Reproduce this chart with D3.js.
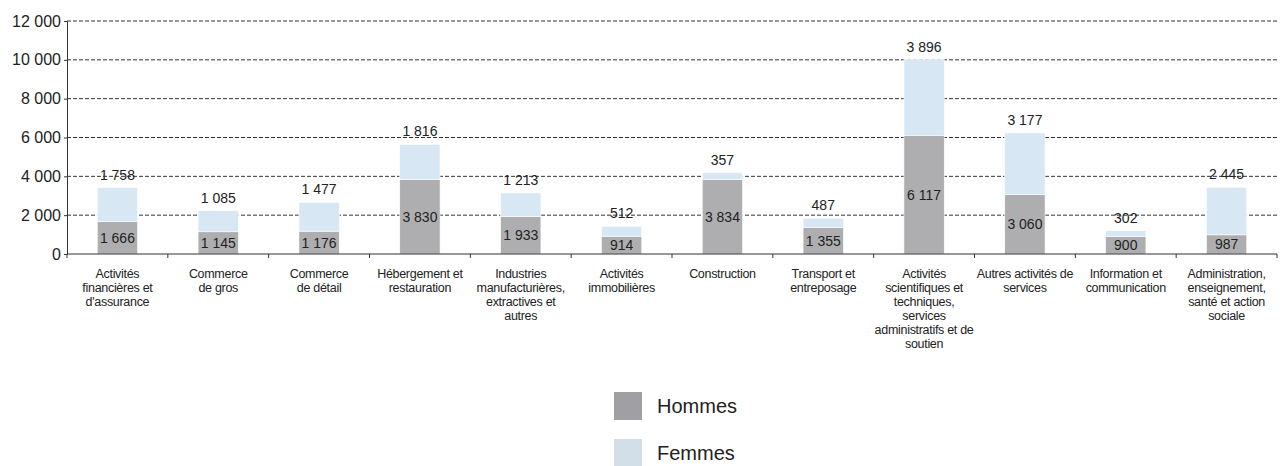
<!DOCTYPE html>
<html>
<head>
<meta charset="utf-8">
<script src="https://cdn.jsdelivr.net/npm/d3@7"></script>
<style>
  body { margin: 0; background: #fff; }
  text { font-family: "Liberation Sans", Arial, Helvetica, sans-serif; fill: #222; }
</style>
</head>
<body>
<div id="chart"></div>
<script>
// categories (line breaks as in the source)
const categories = [
  ["Activités", "financières et", "d'assurance"],
  ["Commerce", "de gros"],
  ["Commerce", "de détail"],
  ["Hébergement et", "restauration"],
  ["Industries", "manufacturières,", "extractives et", "autres"],
  ["Activités", "immobilières"],
  ["Construction"],
  ["Transport et", "entreposage"],
  ["Activités", "scientifiques et", "techniques,", "services", "administratifs et de", "soutien"],
  ["Autres activités de", "services"],
  ["Information et", "communication"],
  ["Administration,", "enseignement,", "santé et action", "sociale"]
];
const hommes = [1666, 1145, 1176, 3830, 1933, 914, 3834, 1355, 6117, 3060, 900, 987];
const femmes = [1758, 1085, 1477, 1816, 1213, 512, 357, 487, 3896, 3177, 302, 2445];
const yTicks = [0, 2000, 4000, 6000, 8000, 10000, 12000];
const seriesNames = ["Hommes", "Femmes"];

const width = 1283, height = 466;
const margin = { left: 67, right: 6, top: 21, bottom: 212 };
const colors = { Hommes: "#aeaeb1", Femmes: "#d8e7f4" };
const legendColors = { Hommes: "#a0a0a4", Femmes: "#d2dee8" };

const fmt = v => d3.format(",")(v).replace(/,/g, " ");

const svg = d3.select("#chart").append("svg")
  .attr("width", width).attr("height", height);

const idx = categories.map((c, i) => i);
const x = d3.scaleBand()
  .domain(idx)
  .range([margin.left, width - margin.right])
  .paddingInner(0.6).paddingOuter(0.3);
const xb = d3.scaleBand().domain(idx).range([margin.left, width - margin.right]);
const y = d3.scaleLinear().domain([0, 12000]).range([height - margin.bottom, margin.top]);

// dashed grid lines
svg.append("g")
  .selectAll("line")
  .data(yTicks.filter(t => t > 0))
  .join("line")
  .attr("x1", margin.left).attr("x2", width - margin.right)
  .attr("y1", d => y(d)).attr("y2", d => y(d))
  .attr("stroke", "#333").attr("stroke-width", 1)
  .attr("stroke-dasharray", "4,2");

// y axis
const yAxis = svg.append("g")
  .attr("transform", `translate(${margin.left},0)`)
  .call(d3.axisLeft(y).tickValues(yTicks).tickSize(3).tickPadding(3).tickFormat(fmt));
yAxis.select(".domain").attr("stroke", "#333");
yAxis.selectAll(".tick line").attr("stroke", "#333");
yAxis.selectAll(".tick text").style("font-size", "16px").attr("fill", "#222");

// bars
const stackData = d3.stack().keys(seriesNames)(idx.map(i => ({ Hommes: hommes[i], Femmes: femmes[i] })));
svg.append("g")
  .selectAll("g")
  .data(stackData)
  .join("g")
  .attr("fill", d => colors[d.key])
  .selectAll("rect")
  .data(d => d.map((v, i) => ({ v, i })))
  .join("rect")
  .attr("x", d => x(d.i))
  .attr("width", x.bandwidth())
  .attr("y", d => y(d.v[1]))
  .attr("height", d => y(d.v[0]) - y(d.v[1]))
  .attr("stroke", "#fff").attr("stroke-width", 0.6);

// x axis
const baseY = y(0);
svg.append("line")
  .attr("x1", margin.left).attr("x2", width - margin.right)
  .attr("y1", baseY).attr("y2", baseY)
  .attr("stroke", "#333").attr("stroke-width", 1.2);
const bounds = idx.map(i => xb(i)).concat([width - margin.right]);
svg.append("g").selectAll("line")
  .data(bounds)
  .join("line")
  .attr("x1", d => d).attr("x2", d => d)
  .attr("y1", baseY).attr("y2", baseY + 4)
  .attr("stroke", "#333");

// value labels
svg.append("g").selectAll("text")
  .data(idx)
  .join("text")
  .attr("x", i => x(i) + x.bandwidth() / 2)
  .attr("y", i => (y(0) + y(hommes[i])) / 2 + 5)
  .attr("text-anchor", "middle")
  .style("font-size", "14px")
  .text(i => fmt(hommes[i]));
svg.append("g").selectAll("text")
  .data(idx)
  .join("text")
  .attr("x", i => x(i) + x.bandwidth() / 2)
  .attr("y", i => y(hommes[i] + femmes[i]) - 8)
  .attr("text-anchor", "middle")
  .style("font-size", "14px")
  .text(i => fmt(femmes[i]));

// category labels
const catG = svg.append("g").selectAll("text")
  .data(idx)
  .join("text")
  .attr("x", i => xb(i) + xb.bandwidth() / 2)
  .attr("y", baseY + 24)
  .attr("text-anchor", "middle")
  .style("font-size", "12.5px")
  .style("letter-spacing", "-0.3px");
catG.selectAll("tspan")
  .data(i => categories[i].map(line => ({ line, i })))
  .join("tspan")
  .attr("x", d => xb(d.i) + xb.bandwidth() / 2)
  .attr("dy", (d, k) => k === 0 ? 0 : 14)
  .text(d => d.line);

// legend
const legend = svg.append("g").selectAll("g")
  .data(seriesNames)
  .join("g")
  .attr("transform", (d, k) => `translate(614,${392 + k * 47})`);
legend.append("rect")
  .attr("width", 28).attr("height", 28)
  .attr("fill", d => legendColors[d]);
legend.append("text")
  .attr("x", 43).attr("y", 21)
  .style("font-size", "20px")
  .text(d => d);
</script>
</body>
</html>
